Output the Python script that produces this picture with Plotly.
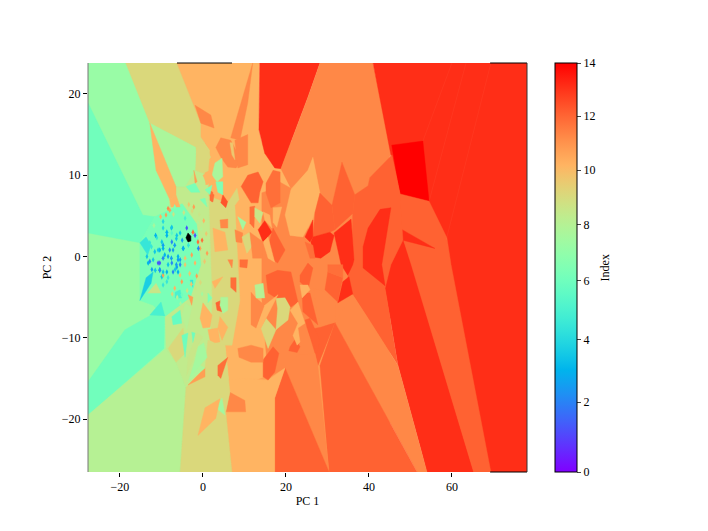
import plotly.graph_objects as go
from plotly.colors import sample_colorscale
import math

# Axis limits and ticks
pc1_range = [-27.7, 78.1]
pc2_range = [-26.5, 23.8]

# The colorbar is stretched, so labels sit at uneven spots along the colour scale.
# All index values below are given on that same colour scale (0 to 14).
colorbar_positions = [0, 2.39, 4.52, 6.54, 8.46, 10.33, 12.18, 14]
colorbar_labels = ["0", "2", "4", "6", "8", "10", "12", "14"]

# Voronoi style cells, drawn back to front
cell_index = [
    7.7, 11, 6.6, 6.6, 8.5, 10.5, 11.5, 9.5, 8.8, 6.8, 9.5, 8.2, 10.5, 10.5, 11.5, 11.5, 13.2, 11.5, 10.5,
    12.25, 12.25, 13.2, 14, 12.25, 13.2, 13.2, 12.25, 13.2, 11.5, 12.25, 12.25, 11.5,
    12.25, 10.5, 11.5, 9.5,
]
cell_pc1 = [
    [-27.7, 10, 10, -27.7],
    [0.5, 45, 45, 0.5],
    [-27.7, -14.5, -11.6, -15.2, -27.7],
    [-27.7, -18.8, -12.5, -9.2, -9.4, -27.7],
    [-27.7, -8.9, -6.5, -4.1, -5.5, -27.7],
    [1.7, 18.8, 21.2, 24.1, 26.5, 30.6, 31.8, 27.7, 19.8, 13.7, 6.5, 1.2, 0.5, 0.5],
    [14.2, 21.2, 24.1, 26.5, 36.6, 36.6, 31.8, 27.7, 19.8, 15.7, 14.2],
    [0.5, 7.7, 8.9, 7, 5.3, 6.5, 1.2, 0.5],
    [-6.5, -1.9, 1.2, 2.2, 1.2, -4.1, -6.5, -8.9, -9.2, -8],
    [-11.6, -5, -1.5, -0.5, -3, -9.2, -12, -15.2, -15.2],
    [-18.6, -6.3, -0.5, -0.5, 1.7, 1.2, -1.9, -1.7, -12.8],
    [-12.8, -1.7, -1.9, -4.3, -6.5],
    [-12.8, -6.5, -6.5, -8, -11.3],
    [-6.3, 12, 13.7, 13.5, 14.9, 18.8, 16.1, 8.9, 2.9, 1.7, -0.5, -0.5],
    [-1.9, 1.9, 2.7, -0.5],
    [12, 6.7, 8.9, 10.8],
    [13.7, 28.2, 25.3, 18.8, 17.3, 14.9, 13.5],
    [28.2, 41, 45.3, 45.3, 40.2, 39.8, 36.6, 33.5, 31.1, 28.2, 26.5, 25.3, 21.2, 18.8, 25.3],
    [26.5, 28.2, 26.5, 24.1, 21, 19.8, 21.2, 25.3],
    [33.5, 36.6, 36.1, 31.8, 31.1],
    [28.2, 31.1, 31.8, 30.6, 26.5, 27],
    [41, 78.1, 78.1, 54, 43.9, 45.3],
    [45.5, 53, 54.5, 47.5],
    [45.5, 47.5, 54.5, 58.8, 59.8, 69.4, 65.1, 50.1, 48.2, 47.7],
    [47.7, 55.9, 48.2],
    [48.2, 50.1, 65.1, 54, 47, 43.9, 45.3],
    [36.6, 39.8, 40.2, 45.5, 47.5, 48.2, 45.3, 43.9, 47, 39.8, 36.1, 34.9, 35.9, 36.1],
    [42.7, 45.3, 43.1, 43.9, 38.6, 38.6, 39.8],
    [31.8, 36.1, 39.8, 47, 54, 51.6],
    [31.8, 51.6, 30.4, 28.2],
    [25.3, 28.4, 31.8, 27.7, 27],
    [19.8, 22.9, 27, 27.7, 30.4],
    [17.3, 17.3, 19.8, 30.4],
    [7, 17.3, 17.3, 19.8, 15.7, 10.1, 5.5, 5.5],
    [5.5, 6.5, 10.1, 10.3],
    [-4.1, -5.5, 7, 5.5, 6.5, 5.3, 1.2, 0.5],
]
cell_pc2 = [
    [23.8, 23.8, -26.5, -26.5],
    [14, 14, -26.5, -26.5],
    [18.9, 5.1, 4.9, 1.7, 2.9],
    [-15.4, -9, -7.2, -7.4, -11.3, -19.5],
    [-19.5, -11.3, -13, -16.1, -26.5, -26.5],
    [13.1, 10.8, 8.4, 4.5, 2.4, 2, -8.1, -13.4, -13.7, -15, -16.7, -15.5, -5.4, 6.9],
    [10.4, 8.4, 4.5, 2.4, 7.6, -4.7, -8.1, -13.4, -13.7, -14.9, -5.3],
    [7.6, 6.2, -5.4, -10.9, -10.9, -16.7, -15.4, -5.4],
    [8.6, 10.6, 10, -5.4, -15.4, -16.1, -13, -11.3, -5.4, 7],
    [4.9, 6.5, 4, -1, -5, -7.4, -6, -5.4, 1.7],
    [23.8, 23.8, 16.4, 14.7, 13.1, 10, 10.6, 13.4, 16.4],
    [16.4, 13.4, 10.6, 8.6, 8.6],
    [16.4, 8.6, 7.6, 7, 10.6],
    [23.8, 23.8, 23.8, 15.6, 12.7, 10.8, 8.2, 7, 8.2, 13.1, 14.7, 16.4],
    [18.6, 17.4, 15.8, 16.4],
    [23.8, 14.6, 14.3, 18.9],
    [23.8, 23.8, 19.6, 10.8, 10.9, 12.7, 15.6],
    [23.8, 23.8, 14, 12.5, 9.7, 8.7, 7.6, 11.6, 6.3, 7.8, 12.2, 10.6, 8.4, 10.8, 19.6],
    [12.2, 7.8, 4.7, 2.4, 2.6, 5.1, 8.2, 10.6],
    [11.6, 7.6, 5.3, 3.3, 6.3],
    [7.8, 6.3, 3.3, 3, 2.4, 5.4],
    [23.8, 23.8, -26.5, -26.5, -3.9, 12.5],
    [13.7, 14.2, 6.8, 7.7],
    [12.5, 7.7, 6.8, 2.3, -1, -26.5, -26.5, -1, 2, 3.4],
    [3.4, 1, 2],
    [2, -1, -26.5, -26.5, -13.4, -3.9, -1],
    [7.6, 8.7, 9.7, 12.5, 7.7, 2, -1, -3.9, -13.4, -7.6, -4.7, -2.6, 0.8, 5.3],
    [5.8, 6, -1, -3.6, -1.4, 1.2, 3.5],
    [-8.1, -4.7, -7.6, -13.4, -26.5, -26.5],
    [-8.1, -26.5, -26.5, -13.4],
    [-9, -8.7, -8.1, -13.4, -11.9],
    [-13.7, -12.1, -11.9, -13.4, -26.5],
    [-26.5, -17.4, -13.7, -26.5],
    [-26.5, -26.5, -17.4, -13.7, -15.2, -15, -15.2, -19.3],
    [-19.1, -16.7, -17.7, -19.1],
    [-16.1, -26.5, -26.5, -19.1, -16.7, -10.9, -10.3, -13.7],
]

# Smaller cells around the dense part of the cloud
small_index = [
    11.5, 12.25, 12, 13.2, 12.25, 13.2, 13.2, 13.2, 12.25, 11.5, 12, 12.25, 11.5, 12.25,
    9.5, 9.5, 12.25, 11.5, 8.5, 12, 12.25, 12, 8, 10.5, 11, 9.5, 8.2, 5.5, 4.2, 9, 5,
    12.5, 12, 11.5, 7, 8, 12, 9, 9.5, 11, 10.5, 6.8, 10.5,
    10.5, 10.5, 10.5, 13.2, 12, 12.25, 10, 11.5, 8.2, 9.5, 11.5, 9.5, 11.5, 12, 10.5, 7, 7,
    8.5, 6.3, 6.5, 6.5, 8, 9, 10.5, 10.5, 10.5, 8.2, 7, 10.5, 11.5, 12, 5, 5.5, 11,
    10.5, 10.5, 12.25, 12.25, 10.5, 10.5,
]
small_pc1 = [
    [3.1, 4.3, 6.7, 9.2, 8, 6, 4.3],
    [10.8, 13.3, 14.5, 13.7, 13.3, 11.6, 9.2],
    [15.2, 16.9, 18.6, 18.6, 16.4, 15.2],
    [13.3, 14.9, 16.6, 14.5],
    [16.1, 16.9, 19.8, 18, 16.1],
    [26.5, 30.6, 31.6, 30.6, 28.4, 27, 26],
    [31.6, 35.7, 36.4, 36.1, 34.9, 33.3],
    [35.2, 36.1, 32.5, 33.7],
    [29.4, 30.1, 33.7, 32.5],
    [26.7, 29.6, 32, 31.8, 28.4, 27.2],
    [30.1, 33.7, 33.7, 30.1],
    [14.5, 16.9, 18.3, 17.3, 15.7, 14.5],
    [8.4, 11.6, 14.5, 14.5, 11.6, 8.7],
    [21, 22.2, 23.4, 22.7, 20.7],
    [14, 15.2, 17.6, 15.7],
    [17.6, 19.8, 21, 20.5, 17.6, 18],
    [15.2, 18, 21.2, 22.9, 21.2, 19.8, 17.6, 15.7],
    [11.6, 12.8, 14.9, 12.8, 11.6],
    [12.5, 14.5, 14.9, 12.8],
    [3.6, 6, 4.3, 3.6],
    [3.1, 4.3, 4.6, 3.4],
    [6.7, 8, 8, 6.7],
    [3.1, 4.6, 5.3],
    [-1.2, 0.5, 4.1, 3.1],
    [-3.6, 0.5, 0.5],
    [-8.4, -4.8, -4.1, -6.5],
    [-3.6, -1.9, 0.5],
    [-12.8, -10.1, -9.2],
    [-15.2, -13.7, -12, -12.5],
    [-13.3, -11.3, -10.1],
    [-15.2, -13.7, -12.5, -13.3],
    [4.8, 6, 5.5, 4.3],
    [1.7, 2.7, 2.4, 1.7],
    [4.1, 6, 6, 4.3],
    [3.1, 4.8, 4.8, 3.6],
    [8.4, 10.4, 9.6],
    [11.3, 12.5, 12.3, 11.3],
    [12.5, 14.5, 13.7, 12.5],
    [-1.7, 0, 1.9, 0.7, -1.2],
    [-2.2, -1.4, -1.9],
    [0.5, 1.9, 1.7, 0.7],
    [-4.1, -1.9, -0.7, -2.9],
    [-8, -6.5, -5.5, -7.7],
    [14.5, 15.7, 17.3, 15.7],
    [16.9, 19, 17.8, 16.9],
    [14.5, 16.1, 16.6, 14.9],
    [24.6, 26.5, 26.5, 25.8],
    [24.6, 26.5, 27, 25.8],
    [23.4, 25.3, 26.5, 25.3, 23.4],
    [6.5, 7.2, 7.7, 7],
    [7.7, 10.8, 10.8, 8.4],
    [2.9, 4.6, 4.8, 3.4, 2.2],
    [6, 8.2, 8.7, 6],
    [7.7, 9.6, 9.4, 8],
    [9.4, 11.3, 12, 10.6],
    [11.3, 14.5, 14.2, 12],
    [1.4, 2.4, 2.2],
    [0, 1.7, 2.4, 1],
    [-0.7, 0.5, 1],
    [0.5, 2.2, 1.7],
    [-4.3, -2.7, -3.9, -5.1],
    [-7.5, -5.5, -5.1, -7.2],
    [-5.1, -3.6, -4.3, -4.8],
    [-2.7, -1.9, -2.4],
    [-1.2, 0.2, 1, -3.1, -1.9],
    [-3.6, -1.4, 0, -1.2, -2.4, -3.9],
    [-0.7, 0, 2.2, 1.7, 0],
    [4.1, 6, 4.6, 3.6],
    [1.2, 3.6, 4.1, 2.9, 1.7],
    [4.3, 6, 6, 4.8, 4.1],
    [1.2, 2.2, 1.2],
    [2.2, 4.8, 2.9],
    [6, 7.2, 7],
    [8.9, 10.8, 10.6, 8.9],
    [-3.1, -2.4, -2.4],
    [-6.7, -5.5, -5.1, -6.7],
    [-3.6, -2.4, -2.7],
    [14.9, 18.1, 14, 13],
    [21, 22.9, 24.6, 22.9, 23.4, 22.7, 21.7, 22.9],
    [24.6, 25.8, 28.2, 27.5, 25.1],
    [23.9, 25.8, 27.7, 25.8, 24.1],
    [23.4, 25.3, 25.8, 23.9],
    [2.4, 5.3, 6, 2.9],
]
small_pc2 = [
    [13.4, 14.6, 14.3, 11.9, 10.9, 11, 12.2],
    [10, 10.4, 9.2, 7.9, 6.6, 6.6, 8.6],
    [9, 10.6, 10.4, 6.6, 6, 7.8],
    [3.3, 4.4, 3, 1.8],
    [2, 3.5, 0.8, -0.8, -0.1],
    [2.4, 3, 2.6, 0.6, -0.2, -0.1, 1.8],
    [2.9, 4.6, -0.4, -1, -2.3, -1],
    [-2.5, -4.6, -5.7, -3.1],
    [-4.1, -1.9, -2.6, -5.6],
    [-3.9, -4.4, -5.8, -8.1, -8.5, -6],
    [-1, -1, -2.6, -1.9],
    [-12.7, -11.1, -11.9, -14.2, -15.2, -14.8],
    [-11.3, -10.9, -11.3, -13, -13, -12.4],
    [-11.1, -10.2, -11.1, -11.8, -11.6],
    [-8.8, -7.6, -9, -11.3],
    [-5.1, -5, -6.2, -7.8, -9, -6.4],
    [-2.3, -1.7, -1.9, -5.6, -6.2, -5, -5.1, -4.5],
    [-4.4, -5.1, -6, -8.8, -8.4],
    [-3.5, -3.3, -5.1, -5.1],
    [-13.4, -12.4, -15, -14.6],
    [-5.7, -5.4, -6.8, -6.6],
    [-2.6, -2.6, -4.4, -3.8],
    [-18.6, -17.4, -19.5],
    [-22, -18.6, -17.5, -19.9],
    [-15.8, -13.7, -14.8],
    [-11.3, -8.8, -11.8, -13],
    [-15.4, -13, -13.7],
    [-7.2, -5.6, -7.3],
    [-5.4, -2.6, -1.9, -3.3],
    [-4.5, -3.3, -4.5],
    [1.7, 2.4, 1.4, 0.2],
    [7.6, 6.7, 6, 6.6],
    [7.9, 7.6, 6.7, 6.9],
    [4.5, 4.6, 3.5, 3.5],
    [9.2, 9.2, 7.6, 7.9],
    [4.9, 4.2, 3.3],
    [6.1, 6.2, 3.5, 4.1],
    [6, 5.4, 4.1, 4.9],
    [13.4, 14, 12.2, 11.6, 11.9],
    [10.6, 9.2, 9],
    [10.3, 10.6, 9.2, 8.8],
    [8.6, 9, 7.9, 7.9],
    [7, 7.6, 6.1, 6.1],
    [1.8, 2.4, -0.7, -0.2],
    [6, 6.1, 3.6, 4.2],
    [5.5, 5.1, 3.5, 4.5],
    [2.4, 4.5, 2.4, 1.8],
    [1.8, 1.4, -0.2, -0.2],
    [-2.3, -0.8, -1.4, -4.1, -3.1],
    [14, 14, 11.9, 12.5],
    [14.3, 15, 11.3, 10.9],
    [11.5, 12.1, 9.8, 9.2, 10],
    [6.6, 8.4, 7, 5.1],
    [3.3, 2.9, 1.7, 1.8],
    [2.4, 3, 1.4, 0.4],
    [3, 1.8, -0.2, -0.2],
    [8.2, 7.9, 6.7],
    [10, 10.6, 9.7, 8.8],
    [7, 7.2, 6.1],
    [8.2, 8.8, 7.6],
    [-5.7, -6.3, -9, -7.4],
    [-7.4, -6.6, -8.2, -8.4],
    [-9.7, -9.4, -12.4, -10.9],
    [-9.3, -9.4, -10.6],
    [-11.1, -10.6, -12.4, -14.8, -12.7],
    [-12.4, -9.4, -9.9, -10.9, -12.7, -14.6],
    [-7.6, -5.7, -7.2, -8.7, -8.8],
    [-7.4, -8.7, -10.3, -8.8],
    [-9, -8.8, -10.5, -10.6, -10.3],
    [-5, -5, -6.6, -7, -6],
    [-4.5, -5.1, -5.7],
    [-3.1, -2.5, -3.9],
    [-0.4, -0.4, -1.4],
    [-0.4, -0.4, -1.4, -1.3],
    [-2.9, -2.9, -3.8],
    [-4.4, -4.1, -5.1, -5.1],
    [-4.7, -5, -6],
    [-6, -4.7, -8.8, -8.8],
    [-6.6, -5.6, -8.2, -8.8, -10.5, -10.9, -9.7, -8.2],
    [-7.8, -7.6, -10.3, -11.9, -8.8],
    [-4.5, -4.5, -8.4, -7.6, -6.8],
    [-3.5, -3.5, -4.1, -5.1],
    [3.5, 3, 0.8, 0.6],
]

# Black blob where the cells get too small to see
blob_pc1 = [-3.6, -2.9, -2.9, -3.6, -4.1]
blob_pc2 = [2.9, 2.5, 1.9, 1.8, 2.3]

# Tiny speckle cells in the middle of the cloud
speck_pc1 = [
    -1.9, -3.9, -6, -6.3, -7.2, -4.8, -7.5, -9.6, -10.8, -12.8, -12.3, -10.4, -8.7, -6.7,
    -9.6, -8.7, -7.5, -6.3, -5, -10.4, -11.6, -8.4, -9.6, -7.5, -5.5, -9.9, -8.4, -13.5,
    -11.1, -12.8, -1.2, -2.4, -0.7, -0.2, -4.3, -9.6, -5.5, -7.5,
    -11.4, -9.6, -8.7, -7.6, -6.4, -4.7, -6, -5.5, -6.4, -7.2, -10.4, -8, -9.6, -12, -13.2,
    -11.5, -9.6, -8.4, -8.7, -9.6, -10.8, -12.4, -6.8, -5.5, -3.5, -1.1, -2.7, -4.3, -1.9,
    -8.4, -8, -6.8, -5.1, -3.2, -6.8, -5.1, -4.3, -9.9, -7.6, -9.2, -10.4, -6,
    -0.9, 0.2, -0.4, 0.8, -1.5, -0.6, 0.4, -1.8, -0.2, 1, -2.6, -1.2, -3.4, -2.2, -4.6,
    -6.2, -7.4, -5.4, -3.8, -2.8, -10.2, -11.8, -8.9, -7.1,
]
speck_pc2 = [
    2.6, 3.5, -0.4, -1.3, 0.8, 1, 1.8, 1.4, -0.8, -0.6, -1.6, -1.6, -1.9, -1.6,
    3.5, 3, 3.6, 2.6, 2, 0.8, 0.6, 0, -0.2, -0.8, -1, -2.5, -2.6, 0,
    2.3, 1.7, 1.8, 3, 1, 2, -0.2, -2.3, -2.3, 2.9,
    2.6, 4.3, 2.6, 3.5, 2.2, 1, 0, -0.4, -1, -1.9, -0.8, 0.8, 1, -0.4, -0.8,
    -1.7, -1.9, -1, -3.1, -3.5, 0.8, 1.2, 1.4, 2.9, 1.4, 1, 0.2, -1, -0.8,
    5.9, 5.7, 6.1, -3.1, -2.1, -3.9, -4.7, 4.7, 1.8, -0.2, 0.2, -1.7, -1.9,
    5.2, 4.4, 3.4, 2.8, -2.4, -3.2, -0.6, -3.9, -4.6, 0.4, 5.6, 4.2, 6.4, 6.1, 5.4,
    -5, -4.6, -5.8, -4.2, -3.4, 4.9, 3.8, 5.1, 5.2,
]
speck_index = [
    1.5, 1.5, 3, 3, 3, 3, 2.5, 3, 1.5, 2.5, 3, 3.5, 3.5, 4,
    4.5, 3.5, 4, 4, 3, 3.5, 4, 3, 2.5, 2.5, 2.5, 4, 5, 4,
    5, 5, 12, 12, 11, 12, 10, 11, 10, 6,
    3.5, 4.5, 3.5, 4, 4, 3.5, 3.5, 3, 3, 2.5, 1.5, 2.5, 3.5, 4, 3.5,
    4, 4, 4, 5, 5, 4, 5, 3, 4, 5, 2.5, 11, 10, 10.5,
    11.5, 11, 7, 11, 10, 10.5, 6.5, 5.5, 4, 3, 3.5, 2.5, 3.5,
    9, 10.5, 8.5, 10, 11, 9.5, 10, 9, 8, 11, 9.5, 8.5, 10, 11, 9,
    8.5, 9.5, 8, 9, 10, 10.5, 8, 11, 9,
]

# Faint seams between neighbouring cells of the same colour
seam_pc1 = [60, 53, None, 63.4, 54.5, None, 69.4, 58.6]
seam_pc2 = [23.8, 14.2, None, 23.8, 6.8, None, 23.8, 2]


def rainbow(x):
    # matplotlib's rainbow colormap
    r = min(abs(2 * x - 0.5), 1)
    g = math.sin(math.pi * x)
    b = math.cos(math.pi * x / 2)
    return f"rgb({r * 255:.0f},{g * 255:.0f},{max(b, 0) * 255:.0f})"


rainbow_scale = [[i / 32, rainbow(i / 32)] for i in range(33)]


def index_color(value):
    return sample_colorscale(rainbow_scale, value / 14, colortype="rgb")[0]


fig = go.Figure()

for value, xs, ys in zip(cell_index + small_index, cell_pc1 + small_pc1, cell_pc2 + small_pc2):
    color = index_color(value)
    fig.add_trace(go.Scatter(x=xs + xs[:1], y=ys + ys[:1], mode="lines", fill="toself",
                             fillcolor=color, line=dict(color=color, width=0.4),
                             hoverinfo="skip", showlegend=False))

fig.add_trace(go.Scatter(x=seam_pc1, y=seam_pc2, mode="lines", hoverinfo="skip", showlegend=False,
                         line=dict(color="rgba(255,130,100,0.18)", width=0.6)))

fig.add_trace(go.Scatter(x=speck_pc1, y=speck_pc2, mode="markers", showlegend=False,
                         marker=dict(symbol="diamond-tall", size=4, color=speck_index, cmin=0, cmax=14,
                                     colorscale=rainbow_scale, line=dict(width=0),
                                     colorbar=dict(tickvals=colorbar_positions, ticktext=colorbar_labels,
                                                   thickness=22, lenmode="pixels", len=409, x=1.0638,
                                                   xanchor="left", y=1, yanchor="top",
                                                   xpad=0, ypad=0, outlinewidth=1,
                                                   outlinecolor="black", ticks="outside",
                                                   ticklen=4, tickfont=dict(size=12)))))
fig.add_trace(go.Scatter(x=blob_pc1 + blob_pc1[:1], y=blob_pc2 + blob_pc2[:1], mode="lines",
                         fill="toself", fillcolor="black", line=dict(color="black", width=0.5),
                         hoverinfo="skip", showlegend=False))

# Parts of the frame that the cells do not cover
spines = [
    dict(x0=0.2027, x1=0.328, y0=1, y1=1, color="black"),
    dict(x0=0.916, x1=1, y0=1, y1=1, color="black"),
    dict(x0=0.916, x1=1, y0=0, y1=0, color="black"),
    dict(x0=1, x1=1, y0=0, y1=1, color="#333333"),
    dict(x0=0, x1=0, y0=0, y1=1, color="#777777"),
]
for s in spines:
    fig.add_shape(type="line", xref="paper", yref="paper", x0=s["x0"], x1=s["x1"],
                  y0=s["y0"], y1=s["y1"], line=dict(color=s["color"], width=1))

fig.add_annotation(text="Index", xref="paper", yref="paper", x=1.198, y=0.5, textangle=-90,
                   showarrow=False, font=dict(size=12))

fig.update_xaxes(title=dict(text="PC 1", font=dict(size=12), standoff=3), range=pc1_range,
                 tickvals=[-20, 0, 20, 40, 60], showgrid=False, zeroline=False, ticks="outside",
                 ticklen=4, tickcolor="black", showline=False)
fig.update_yaxes(title=dict(text="PC 2", font=dict(size=12), standoff=7), range=pc2_range,
                 tickvals=[-20, -10, 0, 10, 20], showgrid=False, zeroline=False, ticks="outside",
                 ticklen=4, tickcolor="black", showline=False)
# the page adds 8px of body margin, so the figure is a bit smaller than the window
fig.update_layout(width=692, height=515, margin=dict(l=80, r=173, t=55, b=51, autoexpand=False),
                  plot_bgcolor="white", paper_bgcolor="white",
                  font=dict(family="Liberation Serif", size=12, color="black"))
fig.write_html("out.html")
